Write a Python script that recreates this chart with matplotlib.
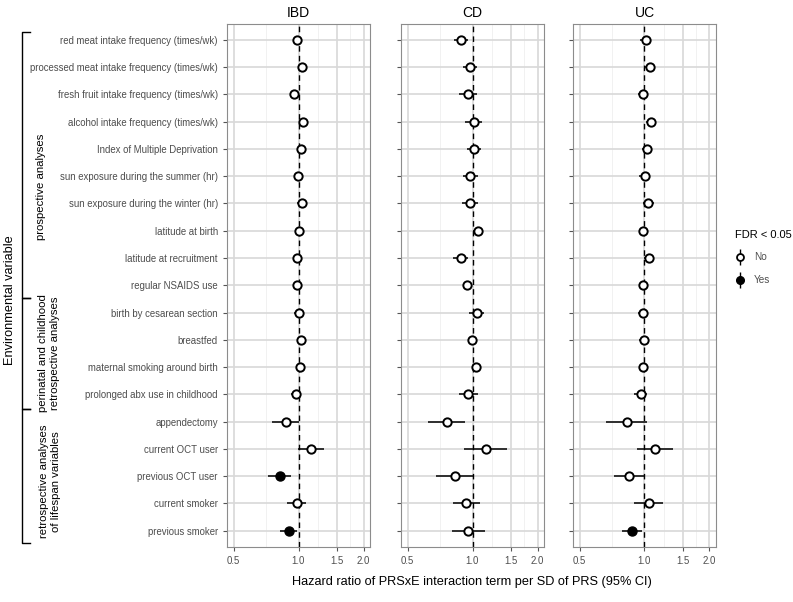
import numpy as np
import matplotlib
matplotlib.use("Agg")
import matplotlib.pyplot as plt
import matplotlib.transforms as mtransforms
from matplotlib.legend_handler import HandlerErrorbar

plt.rcParams['font.family'] = ['Liberation Sans', 'DejaVu Sans']

variables = [
    "red meat intake frequency (times/wk)",
    "processed meat intake frequency (times/wk)",
    "fresh fruit intake frequency (times/wk)",
    "alcohol intake frequency (times/wk)",
    "Index of Multiple Deprivation",
    "sun exposure during the summer (hr)",
    "sun exposure during the winter (hr)",
    "latitude at birth",
    "latitude at recruitment",
    "regular NSAIDS use",
    "birth by cesarean section",
    "breastfed",
    "maternal smoking around birth",
    "prolonged abx use in childhood",
    "appendectomy",
    "current OCT user",
    "previous OCT user",
    "current smoker",
    "previous smoker",
]

diseases = ["IBD", "CD", "UC"]

# hazard ratios, lower CI, upper CI, FDR < 0.05
ibd_hr = [0.982, 1.036, 0.958, 1.051, 1.022, 0.993, 1.033, 1.000, 0.989, 0.989,
          1.007, 1.025, 1.011, 0.972, 0.871, 1.137, 0.822, 0.982, 0.902]
ibd_lo = [0.945, 0.993, 0.921, 1.007, 0.982, 0.955, 0.989, 0.969, 0.951, 0.951,
          0.958, 0.993, 0.982, 0.925, 0.755, 0.993, 0.726, 0.889, 0.822]
ibd_hi = [1.025, 1.085, 1.004, 1.100, 1.066, 1.036, 1.078, 1.036, 1.033, 1.029,
          1.055, 1.062, 1.047, 1.022, 1.007, 1.315, 0.925, 1.089, 0.986]
ibd_sig = [0, 0, 0, 0, 0, 0, 0, 0, 0, 0, 0, 0, 0, 0, 0, 0, 1, 0, 1]

cd_hr = [0.889, 0.972, 0.955, 1.014, 1.014, 0.976, 0.976, 1.066, 0.880, 0.945,
         1.047, 0.993, 1.040, 0.958, 0.758, 1.149, 0.831, 0.935, 0.958]
cd_lo = [0.822, 0.900, 0.870, 0.925, 0.940, 0.900, 0.890, 1.010, 0.810, 0.905,
         0.965, 0.955, 1.000, 0.867, 0.623, 0.915, 0.681, 0.808, 0.800]
cd_hi = [0.955, 1.050, 1.050, 1.110, 1.100, 1.066, 1.066, 1.120, 0.955, 0.990,
         1.130, 1.050, 1.085, 1.058, 0.921, 1.447, 1.007, 1.081, 1.145]
cd_sig = [0] * 19

uc_hr = [1.011, 1.058, 0.986, 1.073, 1.025, 1.004, 1.040, 0.982, 1.051, 0.989,
         0.986, 0.993, 0.989, 0.962, 0.826, 1.116, 0.844, 1.047, 0.877]
uc_lo = [0.958, 1.004, 0.935, 1.018, 0.969, 0.948, 0.982, 0.942, 0.993, 0.942,
         0.935, 0.948, 0.948, 0.890, 0.661, 0.928, 0.720, 0.896, 0.789]
uc_hi = [1.073, 1.116, 1.043, 1.136, 1.085, 1.066, 1.104, 1.025, 1.112, 1.040,
         1.040, 1.040, 1.036, 1.032, 1.029, 1.355, 1.000, 1.215, 0.975]
uc_sig = [0] * 18 + [1]

groups = ["prospective analyses",
          "perinatal and childhood\nretrospective analyses",
          "retrospective analyses\nof lifespan variables"]

xticks = [0.5, 1.0, 1.5, 2.0]
minor = [0.5 ** 0.5, 1.5 ** 0.5, 3.0 ** 0.5]

data = [(ibd_hr, ibd_lo, ibd_hi, ibd_sig),
        (cd_hr, cd_lo, cd_hi, cd_sig),
        (uc_hr, uc_lo, uc_hi, uc_sig)]

fig = plt.figure(figsize=(7.93, 6.02), dpi=100)
W, H = 793, 602
lefts = [227, 401, 573]
pw = 143
top, bot = 23.5, 547

grid_c = '#d8d8d8'
txt_c = '#4d4d4d'
axes = []
y = np.arange(len(variables))
for i, (name, (hr, lo, hi, sig)) in enumerate(zip(diseases, data)):
    ax = fig.add_axes([lefts[i] / W, 1 - bot / H, pw / W, (bot - top) / H])
    axes.append(ax)
    hr = np.array(hr); lo = np.array(lo); hi = np.array(hi); sig = np.array(sig, bool)
    ax.set_xscale('log')
    ax.set_xlim(0.5 * 2 ** -0.1, 2.0 * 2 ** 0.1)
    ax.set_ylim(len(variables) - 0.4, -0.6)
    for v in xticks:
        ax.axvline(v, color=grid_c, lw=1.2, zorder=0)
    for v in minor:
        ax.axvline(v, color='#efefef', lw=0.6, zorder=0)
    for yy in y:
        ax.axhline(yy, color=grid_c, lw=1.2, zorder=0)
    ax.axvline(1.0, color='black', lw=1.0, ls=(0, (4, 3)), zorder=1)
    ax.hlines(y, lo, hi, color='black', lw=1.1, zorder=2)
    ax.plot(hr[~sig], y[~sig], 'o', ms=6, mfc='white', mec='black', mew=1.4, zorder=3)
    ax.plot(hr[sig], y[sig], 'o', ms=6.5, mfc='black', mec='black', mew=1.0, zorder=3)
    ax.xaxis.set_major_locator(matplotlib.ticker.FixedLocator(xticks))
    ax.xaxis.set_minor_locator(matplotlib.ticker.NullLocator())
    ax.set_xticklabels([f"{v:.1f}" for v in xticks])
    ax.set_yticks(y)
    if i == 0:
        ax.set_yticklabels(variables)
    else:
        ax.set_yticklabels([])
    ax.tick_params(colors='#555555', labelcolor=txt_c, labelsize=6.9, length=3, width=0.8)
    for s in ax.spines.values():
        s.set_color('#8c8c8c')
        s.set_linewidth(0.8)
    ax.set_title(name, fontsize=10, pad=5)

fig.text((lefts[0] + lefts[2] + pw) / 2 / W, 1 - 582 / H,
         "Hazard ratio of PRSxE interaction term per SD of PRS (95% CI)",
         ha='center', va='center', fontsize=9.2)
fig.text(10 / W, 1 - 300 / H, "Environmental variable", rotation=90,
         ha='center', va='center', fontsize=9.2)

# group brackets, y in row units of the first panel
trans = mtransforms.blended_transform_factory(fig.transFigure, axes[0].transData)
bounds = [(-0.3, 9.45), (9.45, 13.55), (13.55, 18.45)]
text_y = [5.4, 11.5, 16.2]
text_x = [41, 49, 50]
for (a, b), lab, ty, tx in zip(bounds, groups, text_y, text_x):
    fig.lines.append(matplotlib.lines.Line2D([30 / W, 22 / W, 22 / W, 30 / W], [a, a, b, b],
                                             transform=trans, color='black', lw=1.0))
    fig.text(tx / W, ty, lab, transform=trans, rotation=90, ha='center', va='center',
             fontsize=8.2, linespacing=1.15)

# legend
dummy = fig.add_axes([0, 0, 0.01, 0.01])
dummy.set_axis_off()
h_no = dummy.errorbar([np.nan], [np.nan], yerr=[[1], [1]], fmt='o', ms=5, mfc='white',
                      mec='black', mew=1.3, ecolor='black', elinewidth=1.0)
h_yes = dummy.errorbar([np.nan], [np.nan], yerr=[[1], [1]], fmt='o', ms=5.5, mfc='black',
                       mec='black', ecolor='black', elinewidth=1.0)
hm = HandlerErrorbar(xerr_size=0.5, yerr_size=0.8)
leg = fig.legend([h_no, h_yes], ["No", "Yes"], title="FDR < 0.05", frameon=False,
                 loc='upper left', bbox_to_anchor=(729 / W, 1 - 224 / H),
                 fontsize=7.2, title_fontsize=8.0, handlelength=1.0, handletextpad=0.9,
                 labelspacing=1.25, borderaxespad=0.2,
                 handler_map={h_no: hm, h_yes: hm})
for t in leg.get_texts():
    t.set_color(txt_c)
leg._legend_box.align = "left"

fig.savefig("out.png", dpi=100)
